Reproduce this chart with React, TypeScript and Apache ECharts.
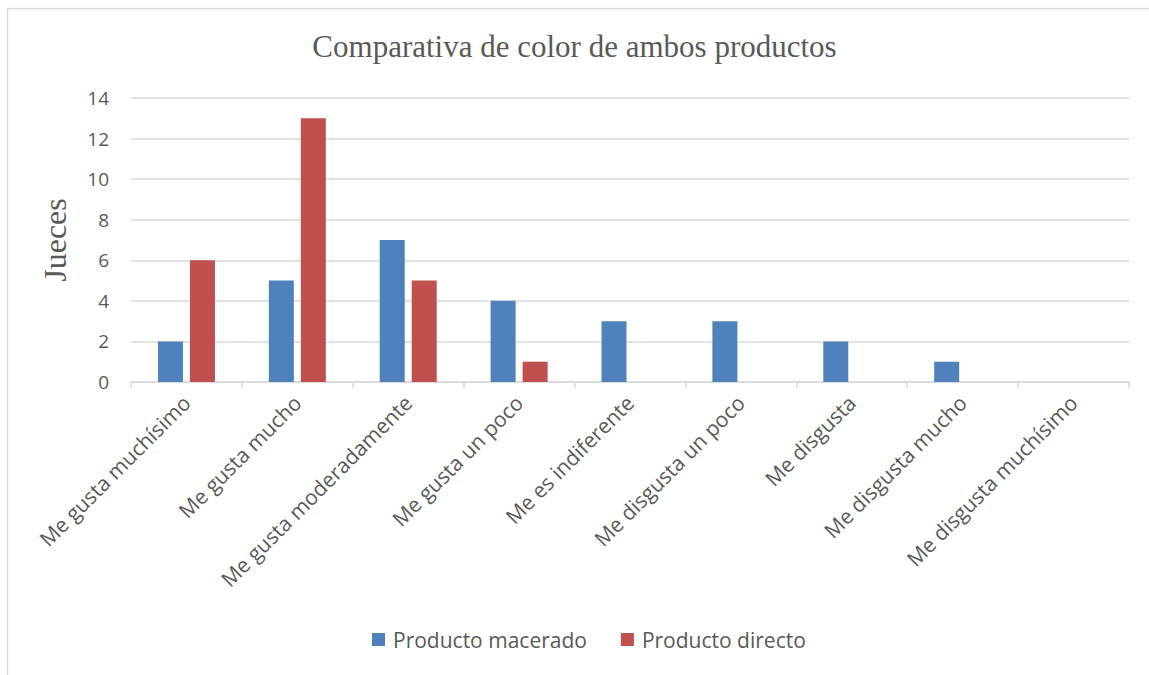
import React, { useEffect, useRef } from "react";
import * as echarts from "echarts";

const categories = [
  "Me gusta muchísimo",
  "Me gusta mucho",
  "Me gusta moderadamente",
  "Me gusta un poco",
  "Me es indiferente",
  "Me disgusta un poco",
  "Me disgusta",
  "Me disgusta mucho",
  "Me disgusta muchísimo",
];
const macerado = [2, 5, 7, 4, 3, 3, 2, 1, 0];
const directo = [6, 13, 5, 1, 0, 0, 0, 0, 0];
const seriesNames = ["Producto macerado", "Producto directo"];

export default function App() {
  const ref = useRef<HTMLDivElement>(null);
  useEffect(() => {
    if (!ref.current) return;
    const chart = echarts.init(ref.current, null, { renderer: "svg" });
    const sans = "'Open Sans', 'Liberation Sans', sans-serif";
    const serif = "'Liberation Serif', 'DejaVu Serif', serif";
    chart.setOption({
      animation: false,
      backgroundColor: "#ffffff",
      title: {
        text: "Comparativa de color de ambos productos",
        left: "center",
        top: 26,
        textStyle: {
          fontFamily: serif,
          fontWeight: "normal",
          fontSize: 31,
          color: "#595959",
        },
      },
      graphic: [
        {
          type: "rect",
          shape: { x: 7.5, y: 8.5, width: 1160, height: 700 },
          style: { fill: "none", stroke: "#d9d9d9", lineWidth: 1.5 },
          silent: true,
        },
      ],
      legend: {
        bottom: 20,
        left: 367,
        itemWidth: 13,
        itemHeight: 13,
        itemGap: 34,
        icon: "rect",
        textStyle: { fontFamily: sans, fontSize: 21, color: "#595959", padding: [0, 0, 0, 3] },
        data: seriesNames,
      },
      grid: { left: 131, right: 20, top: 98, bottom: 293, containLabel: false },
      xAxis: {
        type: "category",
        data: categories,
        axisLine: { lineStyle: { color: "#d9d9d9", width: 1.5 } },
        axisTick: { show: true, length: 6, lineStyle: { color: "#d9d9d9", width: 1.5 } },
        axisLabel: {
          interval: 0,
          rotate: 45,
          margin: 17,
          fontFamily: sans,
          fontSize: 21,
          color: "#595959",
        },
      },
      yAxis: {
        type: "value",
        min: 0,
        max: 14,
        interval: 2,
        name: "Jueces",
        nameLocation: "middle",
        nameGap: 60,
        nameTextStyle: {
          fontFamily: serif,
          fontSize: 32,
          color: "#595959",
        },
        axisLine: { show: false },
        axisTick: { show: false },
        splitLine: { lineStyle: { color: "#d9d9d9", width: 1.5 } },
        axisLabel: { margin: 22, fontFamily: sans, fontSize: 19, color: "#595959" },
      },
      series: [
        {
          name: seriesNames[0],
          type: "bar",
          data: macerado,
          barWidth: 25,
          barGap: "28%",
          itemStyle: { color: "#4f81bd" },
        },
        {
          name: seriesNames[1],
          type: "bar",
          data: directo,
          barWidth: 25,
          barGap: "28%",
          itemStyle: { color: "#c0504d" },
        },
      ],
    });
    return () => chart.dispose();
  }, []);
  return (
    <div
      ref={ref}
      style={{ position: "fixed", left: 0, top: 0, width: 1149, height: 675 }}
    />
  );
}
